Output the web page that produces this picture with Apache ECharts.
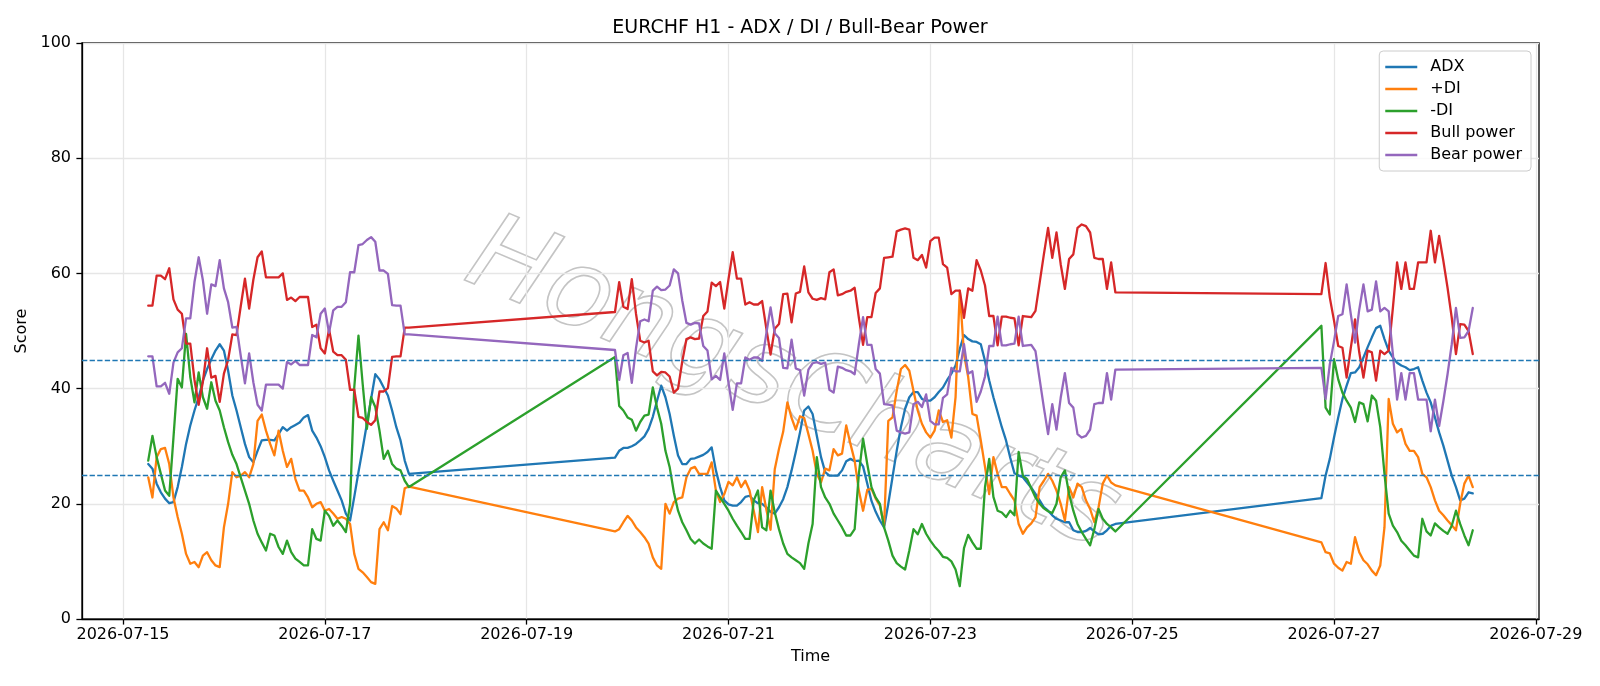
<!DOCTYPE html>
<html>
<head>
<meta charset="utf-8">
<script src="https://cdn.jsdelivr.net/npm/echarts@6/dist/echarts.min.js"></script>
<style>
html,body{margin:0;padding:0;background:#fff}
#chart{width:1600px;height:686px}
</style>
</head>
<body>
<div id="chart"></div>
<script>
// hour offsets from 2026-07-15 00:00, one value per hour inside each block
const segments = [[6, 68], [117, 236], [285, 321]]
const xTickHours = [0, 48, 96, 144, 192, 240, 288, 336]
const xTickLabels = ['2026-07-15', '2026-07-17', '2026-07-19', '2026-07-21', '2026-07-23', '2026-07-25', '2026-07-27', '2026-07-29']
const levels = [25, 45]

const adx = [
  26.9, 26.1, 23.5, 22.0, 20.9, 20.1, 20.3, 22.9, 26.4, 30.4,
  33.6, 36.2, 38.5, 41.4, 43.4, 45.1, 46.6, 47.7, 46.6, 43.1,
  38.8, 36.2, 33.3, 30.4, 28.1, 27.2, 29.2, 31.0, 31.1, 31.1,
  31.0, 32.1, 33.3, 32.7, 33.3, 33.7, 34.1, 35.0, 35.4, 32.7,
  31.5, 30.0, 28.1, 25.8, 24.0, 22.3, 20.6, 18.3, 17.1, 21.2,
  25.5, 29.6, 33.9, 38.2, 42.5, 41.6, 40.2, 38.8, 36.2, 33.3,
  31.0, 27.5, 25.2,
  28.0, 29.2, 29.7, 29.7, 30.0, 30.4, 31.0, 31.7, 33.0, 35.1,
  37.9, 40.5, 38.5, 35.6, 31.8, 28.4, 26.9, 26.9, 27.8, 27.9,
  28.2, 28.5, 29.0, 29.8, 25.8, 22.9, 20.6, 19.9, 19.7, 19.7,
  20.3, 21.2, 21.4, 20.6, 20.1, 20.0, 19.4, 18.6, 18.3, 19.4,
  20.8, 22.9, 25.8, 29.0, 32.4, 36.2, 36.9, 35.6, 31.8, 28.1,
  25.5, 24.9, 24.9, 24.9, 25.8, 27.4, 27.8, 27.4, 27.5, 26.5,
  23.5, 20.5, 18.6, 17.1, 15.9, 20.0, 24.6, 29.2, 33.3, 36.5,
  38.5, 39.4, 39.4, 38.2, 37.9, 37.9, 38.5, 39.4, 40.2, 41.5,
  42.6, 44.0, 46.9, 49.3, 48.6, 48.2, 48.1, 47.7, 44.8, 41.4,
  38.5, 35.9, 33.3, 31.0, 28.0, 25.3, 24.9, 24.6, 23.7, 22.8,
  21.7, 20.6, 19.4, 18.8, 18.0, 17.4, 17.1, 16.8, 16.8, 15.4,
  15.1, 15.1, 15.3, 15.8, 15.2, 14.7, 14.8, 15.4, 16.2, 16.5,
  21.0, 24.9, 27.8, 31.5, 35.0, 38.2, 40.5, 42.7, 42.8, 43.7,
  45.4, 47.2, 48.9, 50.5, 50.9, 48.6, 46.6, 45.4, 44.5, 44.0,
  43.7, 43.2, 43.4, 43.7, 41.4, 39.3, 37.6, 35.0, 32.4, 30.1,
  27.5, 24.9, 22.9, 20.6, 20.9, 22.0, 21.8
]

const plusDI = [
  24.6, 21.1, 28.1, 29.5, 29.7, 26.9, 21.1, 17.7, 14.8, 11.3,
  9.6, 9.9, 9.0, 11.0, 11.6, 10.2, 9.3, 9.0, 15.9, 20.0,
  25.5, 24.6, 24.9, 25.5, 24.6, 26.9, 34.4, 35.5, 32.7, 30.4,
  28.4, 32.7, 29.2, 26.4, 27.8, 24.3, 22.3, 22.3, 21.1, 19.4,
  20.0, 20.3, 18.8, 19.1, 18.3, 17.4, 17.7, 17.4, 16.5, 11.3,
  8.7, 8.1, 7.3, 6.4, 6.1, 15.6, 16.8, 15.4, 19.6, 19.2,
  18.2, 22.7, 23.0,
  15.2, 15.6, 16.8, 17.9, 17.1, 15.9, 15.1, 14.2, 13.1, 10.7,
  9.3, 8.7, 20.0, 18.3, 20.3, 20.9, 21.1, 24.6, 26.1, 26.4,
  25.2, 25.2, 25.2, 27.2, 22.3, 20.3, 21.7, 23.8, 23.2, 24.6,
  22.9, 24.0, 22.3, 18.8, 15.1, 22.9, 19.0, 15.5, 26.0, 29.5,
  32.5, 37.6, 34.9, 32.9, 35.2, 34.9, 32.1, 29.2, 25.2, 23.7,
  26.1, 25.8, 29.5, 28.4, 28.7, 33.6, 30.4, 27.5, 22.3, 18.8,
  22.4, 22.6, 20.9, 19.7, 16.2, 34.4, 35.0, 39.6, 43.4, 44.1,
  43.1, 39.6, 36.2, 33.9, 32.4, 31.5, 32.7, 36.2, 34.2, 34.5,
  31.5, 38.5, 57.0, 46.0, 42.0, 35.6, 35.3, 31.0, 26.4, 21.7,
  28.1, 25.2, 22.9, 22.9, 21.7, 20.6, 16.5, 14.8, 15.9, 16.6,
  17.7, 22.9, 24.0, 25.2, 24.0, 22.3, 20.0, 17.1, 22.9, 21.1,
  23.5, 22.9, 20.6, 19.1, 16.8, 19.4, 23.5, 24.9, 23.7, 23.2,
  13.3, 11.6, 11.4, 9.6, 8.9, 8.4, 9.9, 9.6, 14.2, 11.6,
  10.2, 9.5, 8.4, 7.6, 9.3, 15.9, 38.2, 33.9, 32.4, 33.0,
  30.4, 29.2, 29.2, 28.1, 25.2, 24.6, 22.9, 20.6, 18.8, 18.0,
  17.1, 16.3, 15.4, 20.0, 23.5, 24.9, 22.9
]

const minusDI = [
  27.5, 31.8, 28.1, 25.2, 22.3, 21.4, 31.5, 41.7, 40.2, 49.5,
  42.0, 37.6, 42.8, 38.5, 36.5, 41.1, 37.9, 36.2, 33.3, 30.7,
  28.5, 26.9, 24.6, 22.3, 20.0, 17.1, 14.8, 13.3, 11.9, 14.8,
  14.5, 12.5, 11.3, 13.6, 11.6, 10.5, 9.9, 9.3, 9.3, 15.6,
  13.9, 13.6, 18.8, 17.9, 16.2, 17.1, 16.2, 15.1, 20.0, 40.2,
  49.2, 40.8, 33.0, 38.5, 36.8, 32.7, 27.8, 29.2, 26.9, 26.1,
  25.8, 24.0, 22.9,
  45.5, 37.0, 36.2, 35.0, 34.6, 32.7, 34.2, 35.3, 35.5, 40.2,
  36.7, 33.9, 29.2, 26.4, 22.0, 18.8, 16.8, 15.4, 13.9, 13.1,
  13.8, 13.1, 12.6, 12.2, 22.3, 21.1, 20.0, 18.8, 17.4, 16.2,
  15.1, 13.9, 13.9, 20.6, 22.3, 15.9, 15.4, 22.3, 18.5, 15.6,
  13.1, 11.3, 10.7, 10.2, 9.7, 8.7, 13.1, 16.5, 28.1, 22.9,
  21.1, 20.0, 18.3, 17.1, 15.9, 14.5, 14.5, 15.6, 25.2, 31.3,
  26.9, 22.9, 21.1, 20.0, 15.9, 13.6, 11.0, 9.7, 9.1, 8.6,
  11.9, 15.6, 14.7, 16.5, 14.8, 13.6, 12.6, 11.8, 10.8, 10.6,
  10.0, 8.6, 5.7, 12.3, 14.6, 13.3, 12.2, 12.2, 22.9, 27.8,
  21.2, 18.8, 18.5, 17.7, 18.8, 18.0, 29.0, 24.9, 24.3, 22.7,
  21.1, 20.0, 19.2, 18.7, 18.4, 20.0, 24.6, 25.8, 21.7, 18.8,
  16.5, 15.1, 13.9, 12.8, 15.6, 19.1, 17.4, 16.5, 15.9, 15.2,
  50.9, 36.7, 35.5, 45.1, 41.6, 39.3, 37.9, 36.7, 34.2, 37.6,
  37.3, 34.3, 38.8, 37.9, 33.3, 25.2, 18.3, 16.2, 15.1, 13.6,
  12.8, 11.9, 11.0, 10.7, 17.4, 15.2, 14.5, 16.6, 15.9, 15.3,
  14.8, 16.2, 18.8, 16.5, 14.5, 12.8, 15.4
]

const bullPower = [
  54.4, 54.4, 59.6, 59.6, 59.0, 60.9, 55.5, 53.7, 53.0, 47.8,
  47.8, 41.5, 37.2, 41.2, 47.0, 41.9, 42.2, 37.7, 42.6, 45.0,
  49.4, 49.3, 54.3, 59.1, 53.9, 58.9, 62.8, 63.8, 59.3, 59.3,
  59.3, 59.3, 60.0, 55.4, 55.8, 55.2, 55.9, 55.9, 55.9, 50.7,
  51.1, 47.0, 46.1, 50.3, 46.4, 45.8, 45.8, 45.0, 39.8, 39.8,
  35.1, 34.9, 34.2, 33.7, 34.5, 39.5, 39.5, 40.1, 45.5, 45.6,
  45.6, 50.6, 50.6,
  53.3, 58.5, 54.2, 53.8, 59.0, 53.0, 48.3, 48.0, 48.3, 43.0,
  42.3, 42.9, 42.8, 42.1, 39.3, 40.0, 44.7, 48.6, 48.9, 48.6,
  48.7, 52.6, 53.4, 58.4, 57.8, 58.5, 53.9, 59.0, 63.7, 59.1,
  59.1, 54.6, 55.0, 54.6, 54.6, 55.2, 50.4, 45.9, 50.4, 51.2,
  56.4, 56.5, 51.5, 56.5, 56.8, 61.2, 56.7, 55.6, 55.4, 55.7,
  55.5, 60.2, 60.7, 56.2, 56.4, 56.8, 57.0, 57.5, 52.3, 47.6,
  52.4, 52.4, 56.6, 57.4, 62.7, 62.8, 62.9, 67.3, 67.6, 67.8,
  67.6, 62.7, 62.3, 63.2, 61.0, 65.6, 66.2, 66.2, 61.6, 61.0,
  56.4, 57.0, 57.0, 52.3, 57.4, 57.0, 62.3, 60.5, 57.9, 52.6,
  52.6, 47.5, 52.5, 52.5, 52.3, 52.2, 47.5, 52.6, 52.5, 52.4,
  53.5, 58.4, 63.3, 67.9, 62.7, 67.1, 61.6, 57.3, 62.5, 63.3,
  67.9, 68.5, 68.2, 67.1, 62.7, 62.5, 62.5, 57.3, 61.9, 56.7,
  56.4, 61.8, 55.8, 51.8, 47.4, 47.1, 41.9, 47.1, 52.0, 46.3,
  41.9, 46.6, 46.3, 41.4, 46.6, 46.0, 46.6, 54.0, 61.9, 57.3,
  61.9, 57.3, 57.3, 61.9, 61.9, 61.9, 67.4, 61.9, 66.5, 62.2,
  57.5, 52.3, 46.0, 51.2, 51.1, 50.0, 46.0
]

const bearPower = [
  45.6, 45.6, 40.4, 40.4, 41.0, 39.1, 44.5, 46.3, 47.0, 52.2,
  52.2, 58.5, 62.8, 58.8, 53.0, 58.1, 57.8, 62.3, 57.4, 55.0,
  50.6, 50.7, 45.7, 40.9, 46.1, 41.1, 37.2, 36.2, 40.7, 40.7,
  40.7, 40.7, 40.0, 44.6, 44.2, 44.8, 44.1, 44.1, 44.1, 49.3,
  48.9, 53.0, 53.9, 49.7, 53.6, 54.2, 54.2, 55.0, 60.2, 60.2,
  64.9, 65.1, 65.8, 66.3, 65.5, 60.5, 60.5, 59.9, 54.5, 54.4,
  54.4, 49.4, 49.4,
  46.7, 41.5, 45.8, 46.2, 41.0, 47.0, 51.7, 52.0, 51.7, 57.0,
  57.7, 57.1, 57.2, 57.9, 60.7, 60.0, 55.3, 51.4, 51.1, 51.4,
  51.3, 47.4, 46.6, 41.6, 42.2, 41.5, 46.1, 41.0, 36.3, 40.9,
  40.9, 45.4, 45.0, 45.4, 45.4, 44.8, 49.6, 54.1, 49.6, 48.8,
  43.6, 43.5, 48.5, 43.5, 43.2, 38.8, 43.3, 44.4, 44.6, 44.3,
  44.5, 39.8, 39.3, 43.8, 43.6, 43.2, 43.0, 42.5, 47.7, 52.4,
  47.6, 47.6, 43.4, 42.6, 37.3, 37.2, 37.1, 32.7, 32.4, 32.2,
  32.4, 37.3, 37.7, 36.8, 39.0, 34.4, 33.8, 33.8, 38.4, 39.0,
  43.6, 43.0, 43.0, 47.7, 42.6, 43.0, 37.7, 39.5, 42.1, 47.4,
  47.4, 52.5, 47.5, 47.5, 47.7, 47.8, 52.5, 47.4, 47.5, 47.6,
  46.5, 41.6, 36.7, 32.1, 37.3, 32.9, 38.4, 42.7, 37.5, 36.7,
  32.1, 31.5, 31.8, 32.9, 37.3, 37.5, 37.5, 42.7, 38.1, 43.3,
  43.6, 38.2, 44.2, 48.2, 52.6, 52.9, 58.1, 52.9, 48.0, 53.7,
  58.1, 53.4, 53.7, 58.6, 53.4, 54.0, 53.4, 46.0, 38.1, 42.7,
  38.1, 42.7, 42.7, 38.1, 38.1, 38.1, 32.6, 38.1, 33.5, 37.8,
  42.5, 47.7, 54.0, 48.8, 48.9, 50.0, 54.0
]

const hours = []
segments.forEach(s => { for (let h = s[0]; h <= s[1]; h++) hours.push(h) })

const font = 'DejaVu Sans'
const chart = echarts.init(document.getElementById('chart'))

function line(name, values, color) {
  return {
    name: name,
    type: 'line',
    data: hours.map((h, i) => [h, values[i]]),
    showSymbol: false,
    symbol: 'none',
    color: color,
    lineStyle: { width: 2.3, color: color, join: 'round', cap: 'round' },
    emphasis: { disabled: true }
  }
}

const series = [
  line('ADX', adx, '#1f77b4'),
  line('+DI', plusDI, '#ff7f0e'),
  line('-DI', minusDI, '#2ca02c'),
  line('Bull power', bullPower, '#d62728'),
  line('Bear power', bearPower, '#9467bd')
]
series[4].markLine = {
  silent: true,
  symbol: ['none', 'none'],
  label: { show: false },
  lineStyle: { color: '#1f77b4', type: [5.3, 2.3], width: 1.4 },
  data: levels.map(v => ({ yAxis: v }))
}

const option = {
  animation: false,
  backgroundColor: '#fff',
  title: {
    text: 'EURCHF H1 - ADX / DI / Bull-Bear Power',
    left: 'center',
    top: 19,
    padding: 0,
    textStyle: { fontFamily: font, fontSize: 19, fontWeight: 'normal', color: '#000' }
  },
  legend: {
    orient: 'vertical',
    right: 69,
    top: 51,
    padding: [8, 9, 8, 6],
    icon: 'rect',
    itemWidth: 32,
    itemHeight: 2.4,
    itemGap: 6,
    backgroundColor: 'rgba(255,255,255,0.8)',
    borderColor: '#cccccc',
    borderWidth: 1,
    borderRadius: 4,
    textStyle: { fontFamily: font, fontSize: 16, lineHeight: 16, color: '#000', padding: [0, 0, 0, 8] },
    data: ['ADX', '+DI', '-DI', 'Bull power', 'Bear power']
  },
  grid: {
    left: 82, right: 61, top: 43, bottom: 67,
    show: true, borderColor: '#000', borderWidth: 1.3, backgroundColor: 'transparent'
  },
  graphic: [{
    type: 'text',
    x: 792, y: 388,
    rotation: -0.40,
    z: 0,
    silent: true,
    style: {
      text: 'HongsCharts',
      font: 'italic 108px "DejaVu Sans"',
      fill: 'rgba(255,255,255,0)',
      stroke: '#c4c4c4',
      lineWidth: 1.6,
      shadowColor: 'rgba(0,0,0,0.12)',
      shadowOffsetX: 3,
      shadowOffsetY: 3,
      textAlign: 'center',
      textVerticalAlign: 'middle'
    }
  }],
  xAxis: {
    type: 'value',
    min: -9.75,
    max: 336.75,
    name: 'Time',
    nameLocation: 'middle',
    nameGap: 30,
    nameTextStyle: { fontFamily: font, fontSize: 16, color: '#000' },
    axisLine: { show: true, onZero: false, lineStyle: { color: '#000', width: 1.3 } },
    axisTick: { show: true, customValues: xTickHours, length: 5.6, lineStyle: { color: '#000', width: 1.3 } },
    axisLabel: {
      customValues: xTickHours,
      formatter: v => xTickLabels[xTickHours.indexOf(v)],
      fontFamily: font, fontSize: 16, color: '#000', margin: 8
    },
    splitLine: { show: true, lineStyle: { color: '#e6e6e6', width: 1.27 } }
  },
  yAxis: {
    type: 'value',
    min: 0,
    max: 100,
    interval: 20,
    name: 'Score',
    nameLocation: 'middle',
    nameGap: 45,
    nameRotate: 90,
    nameTextStyle: { fontFamily: font, fontSize: 16, color: '#000' },
    axisLine: { show: true, onZero: false, lineStyle: { color: '#000', width: 1.3 } },
    axisTick: { show: true, length: 5.6, lineStyle: { color: '#000', width: 1.3 } },
    axisLabel: { fontFamily: font, fontSize: 16, color: '#000', margin: 11 },
    splitLine: { show: true, lineStyle: { color: '#e6e6e6', width: 1.27 } }
  },
  series: series
}

chart.setOption(option)
</script>
</body>
</html>
